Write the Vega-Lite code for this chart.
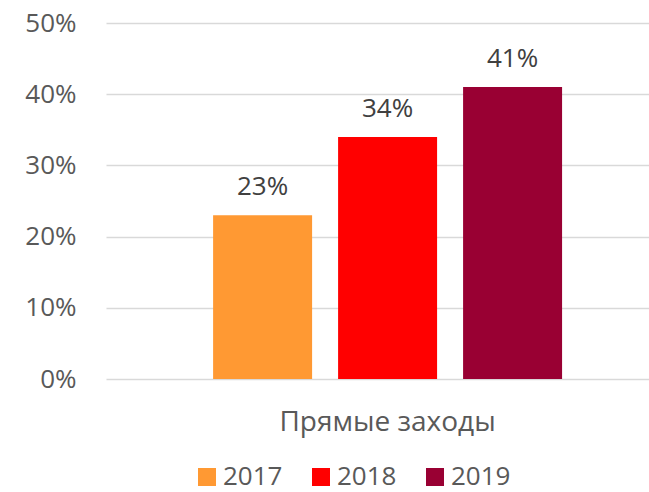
{
  "$schema": "https://vega.github.io/schema/vega-lite/v6.json",
  "width": 543,
  "height": 356,
  "autosize": {"type": "none"},
  "padding": {"left": 106, "top": 23, "right": 0, "bottom": 113},
  "background": "white",
  "config": {"view": {"stroke": null}, "font": "Open Sans"},
  "data": {
    "values": [
      {"cat": "Прямые заходы", "year": "2017", "value": 0.23},
      {"cat": "Прямые заходы", "year": "2018", "value": 0.34},
      {"cat": "Прямые заходы", "year": "2019", "value": 0.41}
    ]
  },
  "encoding": {
    "x": {
      "field": "cat",
      "type": "nominal",
      "scale": {"paddingInner": 0, "paddingOuter": 0.278, "align": 0.552},
      "axis": {
        "title": null,
        "labelAngle": 0,
        "ticks": false,
        "domain": false,
        "labelPadding": 29,
        "labelFontSize": 28,
        "labelLimit": 0,
        "labelColor": "#595959",
        "labelFont": "Open Sans"
      }
    },
    "xOffset": {
      "field": "year",
      "type": "nominal",
      "scale": {"paddingInner": 0.208, "paddingOuter": 0}
    },
    "y": {
      "field": "value",
      "type": "quantitative",
      "scale": {"domain": [0, 0.5]},
      "axis": {
        "format": ".0%",
        "values": [0, 0.1, 0.2, 0.3, 0.4, 0.5],
        "title": null,
        "ticks": false,
        "domain": false,
        "labelPadding": 30,
        "labelFontSize": 26,
        "labelColor": "#595959",
        "labelFont": "Open Sans",
        "gridColor": "#D9D9D9",
        "gridWidth": 1.3
      }
    }
  },
  "layer": [
    {
      "mark": {"type": "bar"},
      "encoding": {
        "color": {
          "field": "year",
          "type": "nominal",
          "scale": {"domain": ["2017", "2018", "2019"], "range": ["#FF9933", "#FF0000", "#990033"]},
          "legend": {
            "title": null,
            "orient": "none",
            "direction": "horizontal",
            "legendX": 88,
            "legendY": 441,
            "padding": 0,
            "symbolType": "square",
            "symbolSize": 324,
            "symbolStrokeWidth": 0,
            "symbolOpacity": 1,
            "labelFontSize": 26,
            "labelFont": "Open Sans",
            "labelColor": "#595959",
            "labelOffset": 3,
            "columnPadding": 25
          }
        }
      }
    },
    {
      "mark": {"type": "text", "dy": -20, "baseline": "alphabetic", "fontSize": 26, "color": "#404040", "font": "Open Sans"},
      "encoding": {"text": {"field": "value", "type": "quantitative", "format": ".0%"}}
    }
  ]
}
